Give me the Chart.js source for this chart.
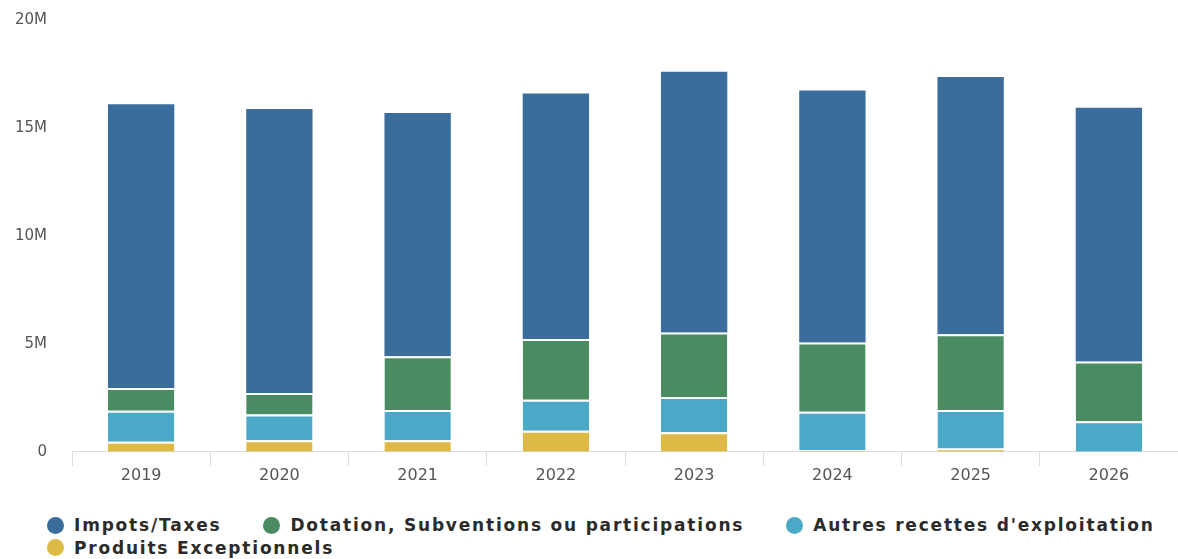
<!DOCTYPE html>
<html>
<head>
<meta charset="utf-8">
<script src="https://cdn.jsdelivr.net/npm/chart.js@4"></script>
<style>
  html, body { margin: 0; padding: 0; background: #fff; }
  #page { width: 1178px; height: 559px; position: relative; overflow: hidden; }
  #wrap { width: 1178px; height: 490px; position: absolute; left: 0; top: 0; }
  #legend {
    position: absolute; left: 47px; top: 514px; width: 1131px;
    display: flex; flex-wrap: wrap; column-gap: 42px;
    font-family: "DejaVu Sans", sans-serif; font-weight: bold; font-size: 17px;
    letter-spacing: 1.8px; line-height: 22.5px; color: #2b2b2b;
  }
  #legend .item { display: flex; align-items: center; white-space: nowrap; }
  #legend .dot { width: 17px; height: 17px; border-radius: 50%; margin-right: 10px; flex: none; }
</style>
</head>
<body>
<div id="page">
  <div id="wrap"><canvas id="chart"></canvas></div>
  <div id="legend"></div>
</div>
<script>
const years = ["2019", "2020", "2021", "2022", "2023", "2024", "2025", "2026"];
const impots = [13.15, 13.16, 11.26, 11.37, 12.08, 11.68, 11.91, 11.75];
const dotation = [1.05, 0.99, 2.49, 2.82, 2.98, 3.2, 3.51, 2.76];
const autres = [1.44, 1.19, 1.4, 1.44, 1.63, 1.78, 1.79, 1.42];
const produits = [0.46, 0.54, 0.54, 0.97, 0.91, 0.08, 0.15, 0];
const yTicks = [0, 5, 10, 15, 20];

const toM = arr => arr.map(v => v * 1e6);

// white line on top of each segment, except the top series
function series(label, data, color, topGap = 2) {
  return {
    label,
    data: toM(data),
    backgroundColor: color,
    borderColor: "#ffffff",
    borderWidth: { top: topGap, left: 0, right: 0, bottom: 0 },
    borderSkipped: false,
    barPercentage: 0.96,
    categoryPercentage: 0.5,
  };
}

const chart = new Chart(document.getElementById("chart"), {
  type: "bar",
  data: {
    labels: years,
    datasets: [
      series("Produits Exceptionnels", produits, "#ddb945"),
      series("Autres recettes d'exploitation", autres, "#4aa9c7"),
      series("Dotation, Subventions ou participations", dotation, "#4a8b61"),
      series("Impots/Taxes", impots, "#3a6d9b", 0),
    ]
  },
  options: {
    responsive: true,
    maintainAspectRatio: false,
    animation: false,
    layout: { padding: { left: 15, right: 0, top: 20, bottom: 5 } },
    plugins: {
      tooltip: { enabled: false },
      legend: { display: false }
    },
    scales: {
      x: {
        stacked: true,
        grid: { display: true, drawOnChartArea: false, offset: true, tickLength: 14, color: "#dcdcdc" },
        border: { display: true, color: "#dcdcdc" },
        ticks: { color: "#555", font: { family: "DejaVu Sans", size: 16 }, padding: 0 },
        afterFit: s => { s.paddingLeft = 0; s.paddingRight = 0; },
      },
      y: {
        stacked: true,
        min: 0,
        max: 20e6,
        afterBuildTicks: axis => { axis.ticks = yTicks.map(v => ({ value: v * 1e6 })); },
        afterFit: s => { s.width = 57; s.paddingTop = 0; s.paddingBottom = 0; },
        grid: { display: false, drawTicks: false },
        border: { display: false },
        ticks: {
          color: "#555",
          font: { family: "DejaVu Sans", size: 15 },
          padding: 25,
          callback: v => v === 0 ? "0" : (v / 1e6) + "M",
        },
      }
    }
  }
});

// legend as html, top series first
const legend = document.getElementById("legend");
chart.data.datasets.slice().reverse().forEach(ds => {
  const item = document.createElement("div");
  item.className = "item";
  item.innerHTML = `<span class="dot" style="background:${ds.backgroundColor}"></span><span>${ds.label}</span>`;
  legend.appendChild(item);
});
</script>
</body>
</html>
